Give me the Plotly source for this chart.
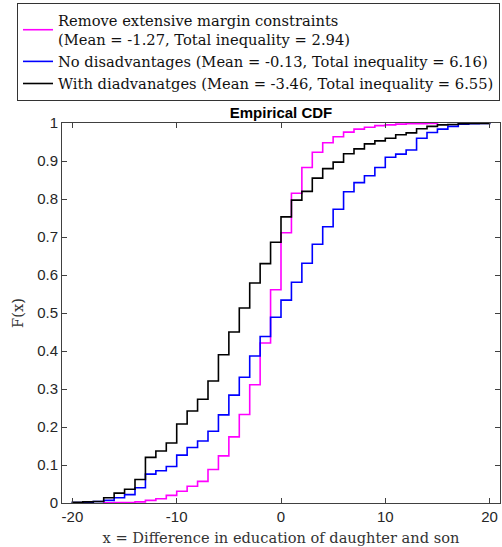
import plotly.graph_objects as go

# Support points (integer differences) and empirical CDF values on [k, k+1)
x_remove = list(range(-17, 16))
F_remove = [0.0005, 0.001, 0.0015, 0.003, 0.007, 0.011, 0.020, 0.031, 0.044, 0.057,
            0.088, 0.124, 0.174, 0.233, 0.311, 0.421, 0.561, 0.711, 0.815, 0.883,
            0.923, 0.948, 0.964, 0.976, 0.984, 0.989, 0.993, 0.995, 0.997, 0.998,
            0.998, 0.999, 1.0]

x_nodis = list(range(-20, 21))
F_nodis = [0.001, 0.002, 0.004, 0.007, 0.014, 0.022, 0.040, 0.076, 0.085, 0.096,
           0.126, 0.146, 0.163, 0.189, 0.232, 0.284, 0.331, 0.387, 0.438, 0.489,
           0.534, 0.581, 0.631, 0.681, 0.727, 0.773, 0.819, 0.843, 0.861, 0.883,
           0.910, 0.918, 0.929, 0.960, 0.975, 0.984, 0.991, 0.997, 0.998, 0.999, 1.0]

x_withdis = list(range(-20, 21))
F_withdis = [0.002, 0.003, 0.004, 0.014, 0.026, 0.036, 0.062, 0.120, 0.137, 0.158,
             0.208, 0.242, 0.273, 0.321, 0.390, 0.450, 0.513, 0.579, 0.630, 0.686,
             0.753, 0.797, 0.820, 0.855, 0.880, 0.897, 0.919, 0.932, 0.945, 0.953,
             0.960, 0.969, 0.974, 0.985, 0.991, 0.995, 0.996, 0.998, 0.999, 0.999, 1.0]

x_tickvals = [-20, -10, 0, 10, 20]
x_ticktext = ["-20", "-10", "0", "10", "20"]
y_tickvals = [0, 0.1, 0.2, 0.3, 0.4, 0.5, 0.6, 0.7, 0.8, 0.9, 1]
y_ticktext = ["0", "0.1", "0.2", "0.3", "0.4", "0.5", "0.6", "0.7", "0.8", "0.9", "1"]

names = [
    "Remove extensive margin constraints<br>(Mean = -1.27, Total inequality = 2.94)",
    "No disadvantages (Mean = -0.13, Total inequality = 6.16)",
    "With diadvanatges (Mean = -3.46, Total inequality = 6.55)",
]
colors = ["#FF00FF", "#0000FF", "#000000"]

SERIF = "DejaVu Serif, Liberation Serif, serif"
SANS = "Liberation Sans, Arial, sans-serif"

fig = go.Figure()
for xs, fs, nm, c in zip([x_remove, x_nodis, x_withdis],
                         [F_remove, F_nodis, F_withdis], names, colors):
    fig.add_trace(go.Scatter(
        x=[xs[0]] + xs, y=[0] + fs, mode="lines", name=nm,
        line=dict(color=c, width=1.6, shape="hv"),
    ))

axis_common = dict(
    showgrid=False, zeroline=False, showline=True, mirror="ticks",
    linecolor="#404040", linewidth=1, ticks="inside", ticklen=5,
    tickcolor="#404040", tickfont=dict(family=SANS, size=15, color="#262626"),
)

fig.update_layout(
    width=502, height=547,
    margin=dict(l=62, r=2, t=123, b=44),
    paper_bgcolor="white", plot_bgcolor="white",
    title=dict(text="<b>Empirical CDF</b>", x=0.5, xref="paper", xanchor="center",
               y=1, yref="paper", yanchor="bottom", pad=dict(b=5),
               font=dict(family=SANS, size=15, color="black")),
    xaxis=dict(range=[-21, 21], tickvals=x_tickvals, ticktext=x_ticktext,
               title=dict(text="x = Difference in education of daughter and son",
                          font=dict(family=SERIF, size=14.6, color="#333"),
                          standoff=8),
               **axis_common),
    yaxis=dict(range=[0, 1], tickvals=y_tickvals, ticktext=y_ticktext,
               title=dict(text="F(x)",
                          font=dict(family=SERIF, size=14.6, color="#333"),
                          standoff=10),
               **axis_common),
    legend=dict(x=1, xanchor="right", xref="paper", y=1.3155, yanchor="top", yref="paper",
                bgcolor="white", bordercolor="#333", borderwidth=1,
                font=dict(family=SERIF, size=14.7, color="#111"),
                tracegroupgap=0, itemwidth=30),
    showlegend=True,
)

fig.write_html("out.html")
